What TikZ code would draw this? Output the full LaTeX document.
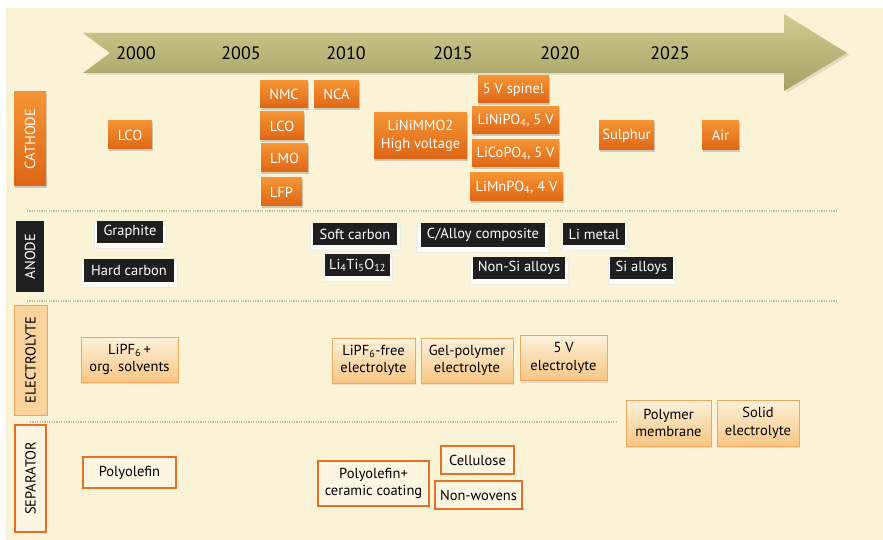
\documentclass[tikz,border=0pt]{standalone}
\usepackage{fontspec}
\setmainfont{PT Sans}
\usetikzlibrary{shadows}

\definecolor{bgcream}{RGB}{250,243,213}
\definecolor{arrowtop}{RGB}{208,205,146}
\definecolor{arrowbot}{RGB}{166,161,100}
\definecolor{oratop}{RGB}{245,148,52}
\definecolor{orabot}{RGB}{222,102,22}
\definecolor{electop}{RGB}{253,241,218}
\definecolor{elecbot}{RGB}{246,198,132}
\definecolor{elecedge}{RGB}{236,168,92}
\definecolor{sepedge}{RGB}{226,112,40}
\definecolor{sepfill}{RGB}{252,245,224}
\definecolor{dotcol}{RGB}{196,189,146}
\definecolor{cardcol}{RGB}{255,253,243}

\tikzset{
  cathbox/.style={top color=oratop, bottom color=orabot, text=white,
    drop shadow={opacity=0.35, shadow xshift=1pt, shadow yshift=-2pt}},
  anobox/.style={fill=black!88, text=white,
    general shadow={fill=cardcol, draw=black!8, shadow yshift=-4pt, shadow scale=1.07}},
  elecbox/.style={top color=electop, bottom color=elecbot, draw=elecedge, line width=0.8pt,
    drop shadow={opacity=0.2, shadow xshift=1pt, shadow yshift=-2pt}},
  sepbox/.style={fill=sepfill, draw=sepedge, line width=2.2pt},
  sepline/.style={dotcol, line width=2.2pt, dash pattern=on 1.2pt off 1.2pt},
}

\begin{document}
\begin{tikzpicture}[x=1pt,y=-1pt,
  every node/.style={font=\fontsize{14.5}{17.5}\selectfont, inner sep=0pt, align=center}]

\useasboundingbox (0,0) rectangle (883,540);
\fill[white] (0,0) rectangle (883,540);
\fill[bgcream] (6,8) rectangle (883,540);

\draw[sepline] (27,211) -- (838,211);
\draw[sepline] (27,301) -- (838,301);
\draw[sepline] (30,422) -- (618,422);

\shade[top color=arrowtop, bottom color=arrowbot, drop shadow={opacity=0.2, shadow yshift=-2pt}]
  (83,33) -- (784,33) -- (784,14) -- (847,53) -- (784,91) -- (784,73) -- (83,73) -- (110,53) -- cycle;

\foreach \yr/\xx in {2000/136,2005/241,2010/346,2015/453,2020/560,2025/670}
  \node[font=\fontsize{18}{20}\selectfont] (y\yr) at (\xx,53) {\yr};

% cathode
\node[cathbox, rotate=90, minimum width=94pt, minimum height=32pt] (cathode) at (30,139) {CATHODE};
\node[cathbox, minimum width=44pt, minimum height=28pt] (lco1) at (130,135) {LCO};
\node[cathbox, minimum width=48pt, minimum height=27pt] (nmc) at (284,94.5) {NMC};
\node[cathbox, minimum width=45pt, minimum height=27pt] (nca) at (336.5,94.5) {NCA};
\node[cathbox, minimum width=44pt, minimum height=28pt] (lco2) at (282,126) {LCO};
\node[cathbox, minimum width=47pt, minimum height=28pt] (lmo) at (284.5,158) {LMO};
\node[cathbox, minimum width=41pt, minimum height=28pt] (lfp) at (281.5,192) {LFP};
\node[cathbox, minimum width=93pt, minimum height=46pt] (linimmo) at (420.5,136) {LiNiMMO2\\High voltage};
\node[cathbox, minimum width=71pt, minimum height=27pt] (spinel) at (513.5,89.5) {5 V spinel};
\node[cathbox, minimum width=87pt, minimum height=27pt] (linipo) at (515.5,120.5) {LiNiPO\textsubscript{4}, 5 V};
\node[cathbox, minimum width=87pt, minimum height=27pt] (licopo) at (515.5,153.5) {LiCoPO\textsubscript{4}, 5 V};
\node[cathbox, minimum width=93pt, minimum height=28pt] (limnpo) at (516.5,187) {LiMnPO\textsubscript{4}, 4 V};
\node[cathbox, minimum width=55pt, minimum height=29pt] (sulphur) at (626.5,135.5) {Sulphur};
\node[cathbox, minimum width=37pt, minimum height=29pt] (air) at (720.5,135.5) {Air};

% anode
\node[fill=black!88, text=white, rotate=90, minimum width=71pt, minimum height=28pt] (anode) at (30,256.5) {ANODE};
\node[anobox, minimum width=66pt, minimum height=22pt] (graphite) at (130,232) {Graphite};
\node[anobox, minimum width=90pt, minimum height=23pt] (hardc) at (129,270.5) {Hard carbon};
\node[anobox, minimum width=84pt, minimum height=22pt] (softc) at (355,234) {Soft carbon};
\node[anobox, minimum width=65pt, minimum height=22pt] (lto) at (357.5,265) {Li\textsubscript{4}Ti\textsubscript{5}O\textsubscript{12}};
\node[anobox, minimum width=124pt, minimum height=24pt] (calloy) at (483,235) {C/Alloy composite};
\node[anobox, minimum width=62pt, minimum height=22pt] (limetal) at (594,234) {Li metal};
\node[anobox, minimum width=92pt, minimum height=22pt] (nonsi) at (519,268) {Non-Si alloys};
\node[anobox, minimum width=63pt, minimum height=22pt] (sialloy) at (641.5,268) {Si alloys};

% electrolyte
\node[fill=elecbot!70!electop, draw=elecedge, line width=0.8pt, rotate=90, minimum width=110pt, minimum height=33pt] (electrolyte) at (30.5,360) {ELECTROLYTE};
\node[elecbox, minimum width=97pt, minimum height=45pt] (lipf) at (129.5,359.5) {LiPF\textsubscript{6}\,+\\org. solvents};
\node[elecbox, minimum width=83pt, minimum height=45pt] (lipffree) at (373.5,360.5) {LiPF\textsubscript{6}-free\\electrolyte};
\node[elecbox, minimum width=92pt, minimum height=45pt] (gel) at (467,360.5) {Gel-polymer\\electrolyte};
\node[elecbox, minimum width=87pt, minimum height=45pt] (fivev) at (563.5,358) {5 V\\electrolyte};
\node[elecbox, minimum width=85pt, minimum height=46pt] (polymem) at (668.5,423) {Polymer\\membrane};
\node[elecbox, minimum width=82pt, minimum height=46pt] (solid) at (758,423) {Solid\\electrolyte};

% separator
\node[sepbox, rotate=90, minimum width=107pt, minimum height=31pt] (separator) at (30.5,478.5) {SEPARATOR};
\node[sepbox, minimum width=93pt, minimum height=31pt] (polyo) at (129.5,472.5) {Polyolefin};
\node[sepbox, minimum width=111pt, minimum height=45pt] (polyoc) at (373.5,483.5) {Polyolefin+\\ceramic coating};
\node[sepbox, minimum width=73pt, minimum height=28pt] (cellu) at (477.5,460) {Cellulose};
\node[sepbox, minimum width=87pt, minimum height=28pt] (nonwov) at (478.5,495) {Non-wovens};

\end{tikzpicture}
\end{document}
